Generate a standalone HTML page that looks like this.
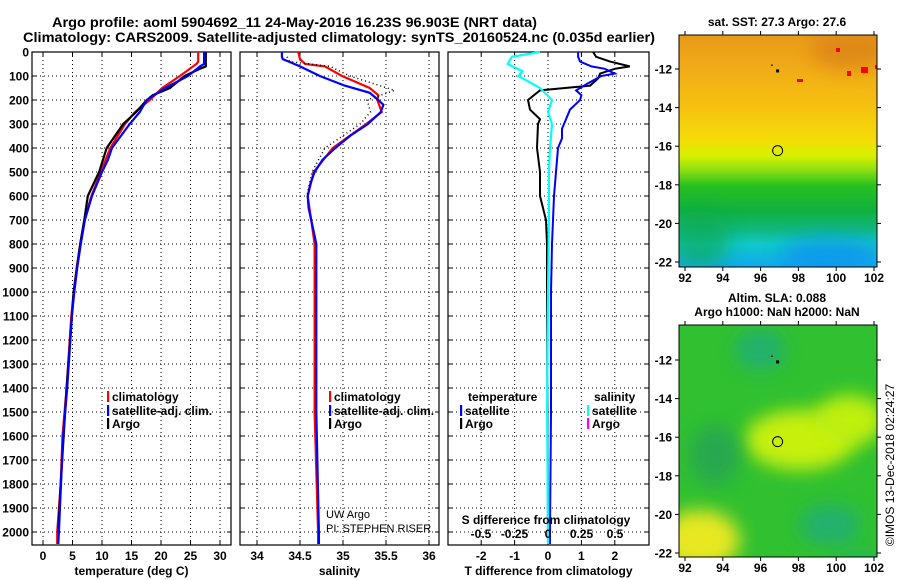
<!DOCTYPE html>
<html><head><meta charset="utf-8"><style>
body{margin:0;background:#fff}
svg{display:block}
text{font-family:"Liberation Sans",sans-serif;font-weight:bold;font-size:12px;fill:#000}
</style></head><body>
<svg id="chart" width="900" height="580" viewBox="0 0 900 580" xmlns="http://www.w3.org/2000/svg">
<defs>
<linearGradient id="sstGrad" x1="0" y1="0" x2="0" y2="1">
<stop offset="0" stop-color="#e89a18"/><stop offset="0.12" stop-color="#f0a818"/>
<stop offset="0.3" stop-color="#f5c010"/><stop offset="0.45" stop-color="#f5dc08"/>
<stop offset="0.52" stop-color="#d8f000"/><stop offset="0.58" stop-color="#90e010"/>
<stop offset="0.65" stop-color="#28c020"/><stop offset="0.76" stop-color="#10b040"/>
<stop offset="0.84" stop-color="#10b880"/><stop offset="0.9" stop-color="#10c8c8"/>
<stop offset="1" stop-color="#10a8f0"/></linearGradient>
<filter id="blur" x="-50%" y="-50%" width="200%" height="200%"><feGaussianBlur stdDeviation="9"/></filter>
<clipPath id="m1clip"><rect x="679" y="35" width="198" height="232"/></clipPath>
<clipPath id="m2clip"><rect x="679" y="325" width="198" height="232"/></clipPath>
</defs>
<text x="52" y="27" textLength="485" lengthAdjust="spacingAndGlyphs" style="font-size:14px">Argo profile: aoml 5904692_11 24-May-2016 16.23S 96.903E (NRT data)</text>
<text x="23" y="42" textLength="632" lengthAdjust="spacingAndGlyphs" style="font-size:14px">Climatology: CARS2009. Satellite-adjusted climatology: synTS_20160524.nc (0.035d earlier)</text>
<g id="panels"></g>
<g id="maps">
<text x="777" y="26" text-anchor="middle">sat. SST: 27.3 Argo: 27.6</text>
<g clip-path="url(#m1clip)">
<rect x="679" y="35" width="198" height="232" fill="url(#sstGrad)"/>
<ellipse cx="850" cy="50" rx="40" ry="20" fill="#d88018" opacity="0.7" filter="url(#blur)"/>
<ellipse cx="830" cy="255" rx="50" ry="18" fill="#1090f0" opacity="0.7" filter="url(#blur)"/>
<ellipse cx="700" cy="240" rx="30" ry="30" fill="#10a850" opacity="0.6" filter="url(#blur)"/>
<rect x="847" y="71" width="4" height="5" fill="#f00"/><rect x="861" y="67" width="7" height="6" fill="#f00"/>
<rect x="709" y="80" width="5" height="5" fill="#f00" opacity="0"/><rect x="797" y="79" width="6" height="3" fill="#f00"/>
<rect x="875" y="65" width="3" height="4" fill="#f00"/><rect x="836" y="48" width="4" height="4" fill="#f00"/>
</g>
<rect x="679" y="35" width="198" height="232" fill="none" stroke="#000"/>
<text x="777" y="302" text-anchor="middle">Altim. SLA: 0.088</text>
<text x="777" y="316" text-anchor="middle">Argo h1000: NaN h2000: NaN</text>
<g clip-path="url(#m2clip)">
<rect x="679" y="325" width="198" height="232" fill="#30c030"/>
<ellipse cx="800" cy="440" rx="55" ry="30" fill="#c8f010" filter="url(#blur)"/>
<ellipse cx="850" cy="420" rx="35" ry="25" fill="#c0f010" filter="url(#blur)"/>
<ellipse cx="700" cy="540" rx="40" ry="30" fill="#e8e820" filter="url(#blur)"/>
<ellipse cx="760" cy="350" rx="25" ry="20" fill="#20b070" filter="url(#blur)"/>
<ellipse cx="830" cy="525" rx="30" ry="20" fill="#20b070" filter="url(#blur)"/>
<ellipse cx="715" cy="455" rx="25" ry="30" fill="#28a850" filter="url(#blur)"/>
<ellipse cx="860" cy="575" rx="30" ry="20" fill="#20b070" filter="url(#blur)"/>
</g>
<rect x="679" y="325" width="198" height="232" fill="none" stroke="#000"/>
<text transform="translate(894,465) rotate(-90)" text-anchor="middle" style="font-weight:normal;font-size:12px">©IMOS 13-Dec-2018 02:24:27</text>
</g>
</svg>
<script>
// ---- data ----
const depthTicks = [0,100,200,300,400,500,600,700,800,900,1000,1100,1200,1300,1400,1500,1600,1700,1800,1900,2000];
const tTicks = [0,5,10,15,20,25,30];
const sTicks = [34,34.5,35,35.5,36];
const dTTicks = [-2,-1,0,1,2];
const dSTicks = [-0.5,-0.25,0,0.25,0.5];
const dSLabels = ['-0.5','-0.25','0','0.25','0.5'];
const lonTicks = [92,94,96,98,100,102];
const latTicks = [-12,-14,-16,-18,-20,-22];

const tClimDepth = [0,40,50,100,150,200,250,300,400,500,600,700,800,900,1000,1100,1400,1600,1800,2000,2050];
const tClim = [26.3,26.3,26.0,23.2,20.2,18.1,15.6,13.9,11.4,9.8,8.2,7.0,6.3,5.7,5.2,4.8,4.0,3.3,3.0,2.4,2.4];
const tSatDepth = [0,50,60,100,150,200,250,300,400,450,500,600,700,800,900,1000,1100,1400,1600,1800,2000,2050];
const tSat = [27.3,27.3,26.6,24.6,20.7,17.6,16.4,14.7,11.7,11.0,10.0,8.3,7.1,6.4,5.8,5.3,4.9,4.1,3.4,3.05,2.7,2.6];
const tArgoDepth = [0,60,70,100,150,180,200,250,300,400,500,600,700,800,1000,1400,1800,2000];
const tArgo = [27.6,27.6,26.6,24.0,21.5,18.6,17.6,15.8,13.6,10.8,9.5,7.6,7.0,6.3,5.2,4.0,3.0,2.6];

const sClimDepth = [0,30,50,60,100,150,180,200,250,300,400,500,600,700,800,1000,1500,2000,2050];
const sClim = [34.48,34.50,34.56,34.79,34.99,35.31,35.41,35.40,35.45,35.27,34.88,34.66,34.59,34.63,34.67,34.67,34.67,34.71,34.71];
const sSatDepth = [0,20,30,40,60,100,140,170,200,220,250,300,350,400,450,500,550,600,650,700,750,800,1000,1500,2000,2050];
const sSat = [34.29,34.29,34.30,34.37,34.50,34.73,35.02,35.31,35.41,35.47,35.44,35.29,35.08,34.91,34.76,34.67,34.62,34.59,34.60,34.63,34.66,34.69,34.69,34.69,34.72,34.72];
const sArgoDepth = [20,40,60,100,160,200,250,300,400,500,600];
const sArgo = [34.35,34.38,34.85,35.08,35.60,35.28,35.32,35.20,34.79,34.64,34.58];

const dTSatDepth = [0,20,40,60,70,90,100,130,160,180,200,240,280,320,360,400,500,600,800,1000,1500,2000,2050];
const dTSat = [0.9,0.9,0.96,1.3,1.7,2.0,1.6,1.2,0.84,1.0,0.96,0.66,0.54,0.42,0.42,0.3,0.24,0.18,0.12,0.09,0.09,0.06,0.06];
const dTArgoDepth = [0,20,40,60,70,90,110,140,160,200,240,280,300,400,500,600,700,800,1000,2000,2050];
const dTArgo = [1.35,1.44,1.86,2.45,2.0,1.56,1.5,1.26,-0.24,-0.6,-0.54,-0.24,-0.3,-0.33,-0.24,-0.24,-0.06,-0.03,-0.03,0,0];
const dSSatDepth = [0,20,50,80,100,150,200,250,300,400,500,700,1000,1500,2000,2050];
const dSSat = [-0.06,-0.27,-0.30,-0.19,-0.22,-0.06,0.03,0.0,0.03,0.015,0.007,0.007,0,-0.007,0,0];

// ---- layout ----
const svgNS='http://www.w3.org/2000/svg';
const root=document.getElementById('panels');
const Y0=52, YB=545, PX=0.24;
function y(d){return Y0+d*PX;}
function mk(tag,attrs,parent){const e=document.createElementNS(svgNS,tag);for(const k in attrs)e.setAttribute(k,attrs[k]);(parent||root).appendChild(e);return e;}
function txt(x,yy,s,anchor,parent){const e=mk('text',{x:x,y:yy,'text-anchor':anchor||'middle'},parent);e.textContent=s;return e;}

const panels=[
 {x0:32,x1:231,fx:v=>43+v*5.9,ticks:tTicks,labels:tTicks.map(String),title:'temperature (deg C)',name:'temperature-panel'},
 {x0:240,x1:439,fx:v=>257+(v-34)*86,ticks:sTicks,labels:sTicks.map(String),title:'salinity',name:'salinity-panel'},
 {x0:448,x1:649,fx:v=>548+v*33.4,ticks:dTTicks,labels:dTTicks.map(String),title:'T difference from climatology',name:'difference-panel'}
];
const fS=v=>548+v*134;

panels.forEach((p,i)=>{
 const g=mk('g',{});
 
 
 depthTicks.forEach(d=>{
  const l=mk('line',{x1:p.x0,x2:p.x1,y1:y(d),y2:y(d),stroke:'#000','stroke-dasharray':'1,3','stroke-width':1},g);
  
  
  mk('line',{x1:p.x0,x2:p.x0+4,y1:y(d),y2:y(d),stroke:'#000'},g);
  mk('line',{x1:p.x1-4,x2:p.x1,y1:y(d),y2:y(d),stroke:'#000'},g);
  if(i===0){const t=txt(29,y(d)+4.5,String(d),'end',g);}
 });
 p.ticks.forEach((v,k)=>{
  const X=p.fx(v);
  mk('line',{x1:X,x2:X,y1:Y0,y2:YB,stroke:'#000','stroke-dasharray':'1,3'},g);
  mk('line',{x1:X,x2:X,y1:Y0,y2:Y0+4,stroke:'#000'},g);
  mk('line',{x1:X,x2:X,y1:YB-4,y2:YB,stroke:'#000'},g);
  const t=txt(X,560,p.labels[k],'middle',g);
  
  
 });
 mk('rect',{x:p.x0,y:Y0,width:p.x1-p.x0,height:YB-Y0,fill:'none',stroke:'#000','stroke-width':1.2},g);
 const tt=txt((p.x0+p.x1)/2,575,p.title,'middle',g);
 
 
});

function line(depths,vals,fx,color,w,dash,name){
 const pts=depths.map((d,i)=>fx(vals[i]).toFixed(1)+','+y(d).toFixed(1)).join(' ');
 const e=mk('polyline',{points:pts,fill:'none',stroke:color,'stroke-width':w});
 if(dash)e.setAttribute('stroke-dasharray',dash);
 
 
 return e;
}
const fT=panels[0].fx, fSal=panels[1].fx, fdT=panels[2].fx;
line(tClimDepth,tClim,fT,'#f00',2.2,null,'temperature-climatology-line');
line(tArgoDepth,tArgo,fT,'#000',2.2,null,'temperature-argo-line');
line(tSatDepth,tSat,fT,'#00f',2.2,null,'temperature-satellite-line');
line(sClimDepth,sClim,fSal,'#f00',2.2,null,'salinity-climatology-line');
line(sSatDepth,sSat,fSal,'#00f',2.2,null,'salinity-satellite-line');
line(sArgoDepth,sArgo,fSal,'#000',1.5,'1,3','salinity-argo-line');
line(dTArgoDepth,dTArgo,fdT,'#000',2,null,'t-diff-argo-line');
line(dTSatDepth,dTSat,fdT,'#00f',2,null,'t-diff-satellite-line');
line(dSSatDepth,dSSat,fS,'#0ff',2.2,null,'s-diff-satellite-line');

// S diff axis labels
dSTicks.forEach((v,k)=>{const t=txt(fS(v),538,dSLabels[k],'middle');});
const sdt=txt(546,524,'S difference from climatology','middle');



function legend(x,yy,color,label,name){
 const g=mk('g',{});
 
 
 mk('rect',{x:x,y:yy-10,width:2.2,height:11,fill:color},g);
 txt(x+5,yy,label,'start',g);
}
legend(107,401,'#f00','climatology','legend-climatology');
legend(107,415,'#00f','satellite-adj. clim.','legend-satellite-adj');
legend(107,428,'#000','Argo','legend-argo');
legend(329,401,'#f00','climatology','legend-climatology-s');
legend(329,415,'#00f','satellite-adj. clim.','legend-satellite-adj-s');
legend(329,428,'#000','Argo','legend-argo-s');
const lt=txt(468,401,'temperature','start');
legend(460,415,'#00f','satellite','legend-t-satellite');
legend(460,428,'#000','Argo','legend-t-argo');
const ls=txt(594,401,'salinity','start');
legend(587,415,'#0ff','satellite','legend-s-satellite');
legend(587,428,'#f0f','Argo','legend-s-argo');
const pi1=mk('text',{x:326,y:518,style:'font-weight:normal;font-size:11px'});pi1.textContent='UW Argo';

const pi2=mk('text',{x:326,y:532,style:'font-weight:normal;font-size:11px'});pi2.textContent='PI: STEPHEN RISER';


// maps axes
const maps=document.getElementById('maps');
const mapDefs=[{top:35,bot:267,lat12:69,name:'sst-map'},{top:325,bot:557,lat12:360,name:'sla-map'}];
const lonX=v=>685+(v-92)*18.9;
mapDefs.forEach(m=>{
 const latY=v=>m.lat12+(-12-v)*19.3;
 lonTicks.forEach(v=>{
  mk('line',{x1:lonX(v),x2:lonX(v),y1:m.top,y2:m.top-4,stroke:'#000'},maps);
  mk('line',{x1:lonX(v),x2:lonX(v),y1:m.bot,y2:m.bot+4,stroke:'#000'},maps);
  const t=txt(lonX(v),m.bot+15,String(v),'middle',maps);
  
 });
 latTicks.forEach(v=>{
  mk('line',{x1:675,x2:679,y1:latY(v),y2:latY(v),stroke:'#000'},maps);
  mk('line',{x1:877,x2:881,y1:latY(v),y2:latY(v),stroke:'#000'},maps);
  const t=txt(672,latY(v)+4.5,String(v),'end',maps);
  
 });
 const c=mk('circle',{cx:lonX(96.9),cy:latY(-16.23),r:5,fill:'none',stroke:'#000'},maps);
 
 mk('rect',{x:lonX(96.9)-1.5,y:latY(-12.1)-1.5,width:3,height:3,fill:'#000'},maps);
 mk('rect',{x:lonX(96.6)-1,y:latY(-11.8)-0.5,width:2,height:1,fill:'#000'},maps);
});
</script>
</body></html>
